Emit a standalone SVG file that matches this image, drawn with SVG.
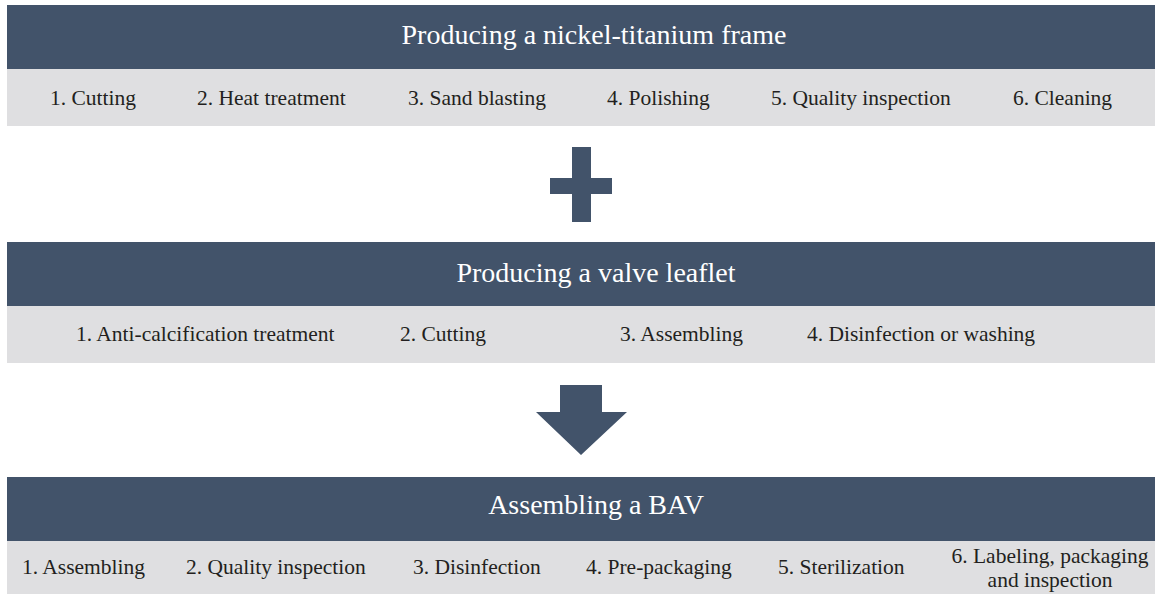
<svg xmlns="http://www.w3.org/2000/svg" width="1155" height="594" viewBox="0 0 1155 594">
<style>
.bar{fill:#42536a}
.row{fill:#dfdfe1}
.title{font-family:"Liberation Serif","Times New Roman",serif;font-size:28px;fill:#ffffff;text-anchor:middle}
.step{font-family:"Liberation Serif","Times New Roman",serif;font-size:21.5px;fill:#231f20}
.sym{fill:#42536a}
</style>
<rect x="0" y="0" width="1155" height="594" fill="#ffffff"/>
<g id="frame">
<rect class="bar" x="7" y="5" width="1148" height="64"/>
<rect class="row" x="7" y="69" width="1148" height="57"/>
<text class="title" x="594" y="44">Producing a nickel-titanium frame</text>
<text class="step" x="50" y="105">1. Cutting</text>
<text class="step" x="197" y="105">2. Heat treatment</text>
<text class="step" x="408" y="105">3. Sand blasting</text>
<text class="step" x="607" y="105">4. Polishing</text>
<text class="step" x="771" y="105">5. Quality inspection</text>
<text class="step" x="1013" y="105">6. Cleaning</text>
</g>
<g id="leaflet">
<rect class="bar" x="7" y="242" width="1148" height="64"/>
<rect class="row" x="7" y="306" width="1148" height="57"/>
<text class="title" x="596" y="282">Producing a valve leaflet</text>
<text class="step" x="76" y="341">1. Anti-calcification treatment</text>
<text class="step" x="400" y="341">2. Cutting</text>
<text class="step" x="620" y="341">3. Assembling</text>
<text class="step" x="807" y="341">4. Disinfection or washing</text>
</g>
<g id="bav">
<rect class="bar" x="7" y="477" width="1148" height="64"/>
<rect class="row" x="7" y="541" width="1148" height="53"/>
<text class="title" x="596" y="514">Assembling a BAV</text>
<text class="step" x="22" y="574">1. Assembling</text>
<text class="step" x="186" y="574">2. Quality inspection</text>
<text class="step" x="413" y="574">3. Disinfection</text>
<text class="step" x="586" y="574">4. Pre-packaging</text>
<text class="step" x="778" y="574">5. Sterilization</text>
<text class="step" x="1050" y="563" text-anchor="middle">6. Labeling, packaging</text>
<text class="step" x="1050" y="587" text-anchor="middle">and inspection</text>
</g>
<g id="connectors">
<path class="sym" d="M572 147H591V178H612V194H591V222H572V194H550V178H572Z"/>
<path class="sym" d="M560 385H602V412H627L581 455L536 412H560Z"/>
</g>
</svg>
